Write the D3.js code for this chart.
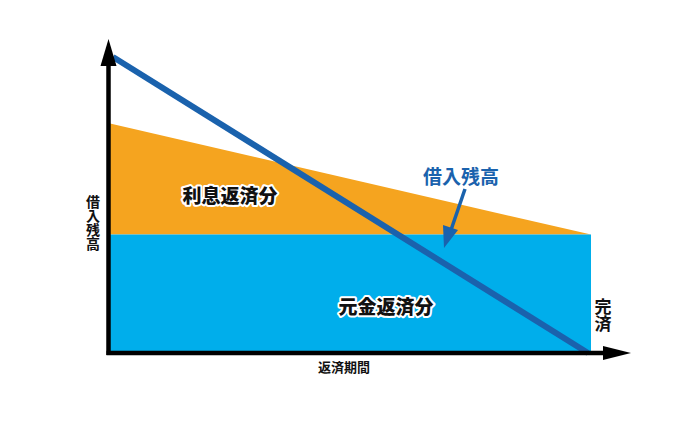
<!DOCTYPE html>
<html><head><meta charset="utf-8">
<script src="https://cdn.jsdelivr.net/npm/d3@7"></script>
<style>body{margin:0;background:#fff}svg{display:block}</style>
</head><body>
<svg id="c" width="700" height="429"></svg>
<script>
// Data
const periods = [0, 1];              // start, end of repayment period
const principalPart = [40, 40];      // 元金返済分 (constant)
const totalPayment = [77.6, 40];     // 元金 + 利息 (top of orange)
const balance = [100, 0];            // 借入残高
const labels = {interest:"利息返済分", principal:"元金返済分", balance:"借入残高", yAxis:"借入残高", xAxis:"返済期間", done:"完済"};

const svg = d3.select("#c");
const font = "'Noto Sans CJK JP','Noto Sans',sans-serif";
const x = d3.scaleLinear().domain([0,1]).range([109,591]);
const y = d3.scaleLinear().domain([0,100]).range([353,57]);

const pts = periods.map((p,i)=>({p, pr:principalPart[i], tot:totalPayment[i], bal:balance[i]}));

// interest area (orange)
svg.append("path").datum(pts)
  .attr("d", d3.area().x(d=>x(d.p)).y0(d=>y(d.pr)).y1(d=>y(d.tot)))
  .attr("fill","#f5a41f");
// principal area (blue)
svg.append("path").datum(pts)
  .attr("d", d3.area().x(d=>x(d.p)).y0(y(0)).y1(d=>y(d.pr)))
  .attr("fill","#00aeeb");

// balance line
svg.append("path").datum(pts)
  .attr("d", d3.line().x(d=>x(d.p)+ (d.p===0?4:-3)).y(d=>y(d.bal)))
  .attr("stroke","#1a62ad").attr("stroke-width",6).attr("fill","none");

// axes
const x0 = x(0)-0.5, yb = y(0);
svg.append("line").attr("x1",x0).attr("y1",yb+2).attr("x2",x0).attr("y2",60)
  .attr("stroke","#000").attr("stroke-width",4.5);
svg.append("path").attr("d",`M${x0},39 L${x0-8},66 L${x0+8},66 Z`).attr("fill","#000");
svg.append("line").attr("x1",x0-2).attr("y1",yb).attr("x2",608).attr("y2",yb)
  .attr("stroke","#000").attr("stroke-width",4.5);
svg.append("path").attr("d",`M631,${yb} L603,${yb-7} L603,${yb+7} Z`).attr("fill","#000");

// vertical labels
function vtext(str, cx, ytop, size, spacing){
  svg.append("text").attr("x",cx).attr("y",ytop)
    .attr("writing-mode","vertical-rl").attr("text-orientation","upright")
    .attr("letter-spacing",spacing)
    .attr("font-family",font).attr("font-weight",700)
    .attr("font-size",size).attr("fill","#111").text(str);
}
vtext(labels.yAxis, 93, 195, 14, 0);
vtext(labels.done, 603, 298, 17, 0);

// x-axis label
svg.append("text").attr("x",344).attr("y",366).attr("text-anchor","middle")
  .attr("dominant-baseline","central").attr("font-family",font).attr("font-weight",700)
  .attr("font-size",13).attr("fill","#111").text(labels.xAxis);

// outlined area labels
function outlined(str, cx, cy){
  svg.append("text").attr("x",cx).attr("y",cy).attr("text-anchor","middle")
    .attr("dominant-baseline","central").attr("font-family",font).attr("font-weight",900)
    .attr("font-size",19).attr("fill","#111").attr("stroke","#fff").attr("stroke-width",4)
    .attr("stroke-linejoin","round").attr("paint-order","stroke").text(str);
}
outlined(labels.interest, 230, 194);
outlined(labels.principal, 386, 305);

// balance callout
svg.append("text").attr("x",461).attr("y",175).attr("text-anchor","middle")
  .attr("dominant-baseline","central").attr("font-family",font).attr("font-weight",700)
  .attr("font-size",19).attr("fill","#1a62ad").text(labels.balance);
svg.append("line").attr("x1",465).attr("y1",189).attr("x2",451).attr("y2",230)
  .attr("stroke","#1a62ad").attr("stroke-width",3.5);
svg.append("path").attr("d","M444,248 L443,225 L458,230 Z").attr("fill","#1a62ad");
</script>
</body></html>
